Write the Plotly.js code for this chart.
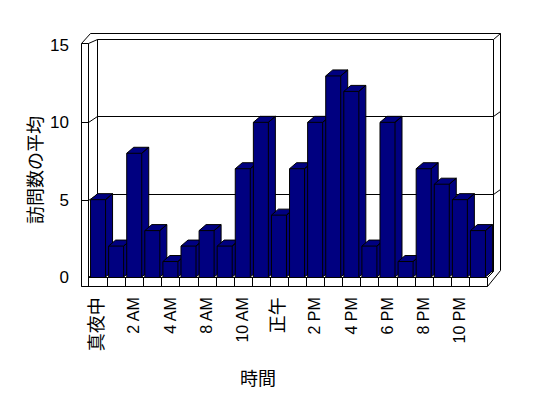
<!DOCTYPE html>
<html>
<head>
<meta charset="utf-8">
<script src="https://cdn.plot.ly/plotly-3.0.1.min.js"></script>
<style>html,body{margin:0;padding:0;background:#fff;}#chart{width:548px;height:398px;}</style>
</head>
<body>
<div id="chart"></div>
<script>
// ---- data ----
const categories = ['真夜中','1 AM','2 AM','3 AM','4 AM','6 AM','8 AM','9 AM','10 AM','11 AM','正午','1 PM','2 PM','3 PM','4 PM','5 PM','6 PM','7 PM','8 PM','9 PM','10 PM','11 PM'];
const visits = [5,2,8,3,1,2,3,2,7,10,4,7,10,13,12,2,10,1,7,6,5,3];
const tickIndex = [0,2,4,6,8,10,12,14,16,18,20];
const tickLabels = ['真夜中','2 AM','4 AM','8 AM','10 AM','正午','2 PM','4 PM','6 PM','8 PM','10 PM'];
const yTicks = [0,5,10,15];
const xTitle = '時間';
const yTitle = '訪問数の平均';

// ---- geometry (pixels) ----
const W = 548, H = 398;
const M = {l:78, r:45, t:30, b:109};
const pw = W - M.l - M.r, ph = H - M.t - M.b;
const n = categories.length;
const frontLeft = 89, frontRight = 487, floorY = 277, topY = 45;
const kx = (frontRight - frontLeft) / n;
const ky = (floorY - topY) / 15;
const xRange = [(M.l - frontLeft)/kx - 0.5, (W - M.r - frontLeft)/kx - 0.5];
const yRange = [(floorY - (H - M.b))/ky, (floorY - M.t)/ky];
const BW = 0.83;               // bar width in category units
const DX = 7 / kx, DY = 6 / ky; // bar depth
const px = v => (v - M.l) / pw;        // pixel -> paper x
const py = v => (H - M.b - v) / ph;    // pixel -> paper y
const yPix = v => floorY - v * ky;     // value -> front pixel y
const xPix = c => frontLeft + (c + 0.5) * kx;

const shapes = [];
const ln = (x0,y0,x1,y1) => shapes.push({type:'line', xref:'paper', yref:'paper', x0:px(x0), y0:py(y0), x1:px(x1), y1:py(y1), line:{color:'#000', width:1}, layer:'below'});
const poly = (pts, fill) => shapes.push({type:'path', xref:'paper', yref:'paper',
  path: 'M' + pts.map(p => px(p[0]) + ',' + py(p[1])).join('L') + 'Z',
  fillcolor: fill, line:{color:'#000', width:1}, layer:'below'});

// walls & floor
const L0 = 81.5, L1 = 88.5, B0 = 97.5, BR = 493.5, RO = 500.5, FR = 487.5;
const TO = 33.5, TI = 39.5, TF = 43.5, FF = 277.5, FB = 271.5, BOT = 286.5;
poly([[B0,TI],[BR,TI],[BR,FB],[B0,FB]], '#fff');
poly([[L1,TF],[B0,TI],[B0,FB],[L1,FF]], '#fff');
poly([[L0,TF],[L1,TF],[L1,BOT],[L0,BOT]], '#fff');
ln(L0,TF,90.5,TO); ln(90.5,TO,RO,TO); ln(BR,TI,RO,TO); ln(RO,TO,RO,FB-1);
ln(RO,FB-1,FR,BOT);
ln(L1,FF,FR,FF); ln(L0,BOT,FR,BOT); ln(FR,FF,FR,BOT);
ln(L1,FF,B0,FB); ln(FR,FF,BR,FB);
// category ticks on floor front
for (let k = 1; k < n; k++) { const x = Math.round(frontLeft + k*kx) + 0.5; ln(x, FF, x, BOT); }
// gridlines on walls
yTicks.forEach(v => {
  if (v === 0 || v === 15) return;
  const yf = Math.round(yPix(v)) + 0.5, yb = yf - 6;
  ln(B0, yb, BR, yb); ln(L1, yf, B0, yb); ln(L0, yf, L1, yf); ln(BR, yb, RO, yb - 5);
});

// ---- bars (front, top, side faces) ----
const traces = visits.map((v, i) => {
  const a = i - BW/2, b = i + BW/2;
  const xs = [a, a, b, b, null, a, a+DX, b+DX, b, null, b, b+DX, b+DX, b];
  const ys = [0, v, v, 0, null, v, v+DY, v+DY, v, null, 0, DY, v+DY, v];
  return {type:'scatter', mode:'lines', x: xs, y: ys, fill:'toself', fillcolor:'#000080',
    line:{color:'#000', width:1}, name: categories[i], showlegend:false, hoverinfo:'skip'};
});

const fontLatin = 'Liberation Sans, Arial, Noto Sans CJK JP, sans-serif';
const fontCJK = 'Noto Sans CJK JP, Liberation Sans, sans-serif';
const layout = {
  width: W, height: H, margin: M,
  paper_bgcolor:'#fff', plot_bgcolor:'rgba(0,0,0,0)', showlegend:false,
  font:{family: fontLatin, color:'#000'},
  xaxis:{range:xRange, showgrid:false, zeroline:false, showline:false, ticks:'',
    tickmode:'array', tickvals: tickIndex,
    ticktext: tickLabels.map(t => /[^\x00-\x7f]/.test(t) ? '<span style="font-family:Noto Sans CJK JP;font-size:18px">'+t+'</span>' : t),
    tickangle:-90, tickfont:{size:16, family:fontLatin, color:'#000'}, ticklabelstandoff: 4, fixedrange:true},
  yaxis:{range:yRange, showgrid:false, zeroline:false, showline:false, ticks:'',
    tickmode:'array', tickvals: yTicks, ticktext: yTicks.map(String),
    tickfont:{size:17, family:fontLatin, color:'#000'}, ticklabelstandoff: 8, fixedrange:true},
  shapes: shapes,
  annotations:[
    {text:xTitle, xref:'paper', yref:'paper', x:px(258), y:py(377), xanchor:'center', yanchor:'middle', showarrow:false, font:{family:fontCJK, size:18, color:'#000'}},
    {text:yTitle, xref:'paper', yref:'paper', x:px(34), y:py(170), xanchor:'center', yanchor:'middle', textangle:-90, showarrow:false, font:{family:fontCJK, size:18, color:'#000'}}
  ]
};
Plotly.newPlot('chart', traces, layout, {staticPlot:true, displayModeBar:false});
</script>
</body>
</html>
